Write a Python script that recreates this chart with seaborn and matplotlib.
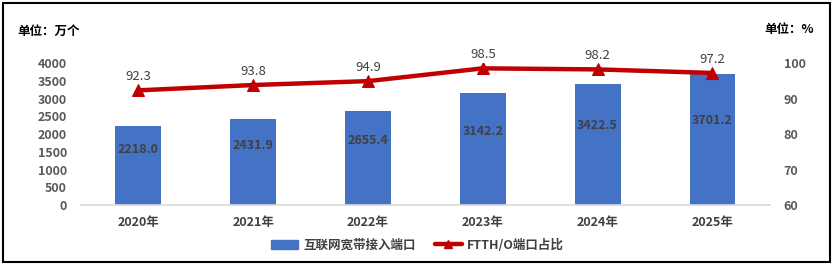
import matplotlib
matplotlib.use("Agg")
import matplotlib.pyplot as plt
import matplotlib.patches as mpatches
from matplotlib.lines import Line2D
import seaborn as sns
import pandas as pd
import numpy as np

years = ["2020年", "2021年", "2022年", "2023年", "2024年", "2025年"]
ports = [2218.0, 2431.9, 2655.4, 3142.2, 3422.5, 3701.2]
ftth = [92.3, 93.8, 94.9, 98.5, 98.2, 97.2]
left_ticks = [0, 500, 1000, 1500, 2000, 2500, 3000, 3500, 4000]
right_ticks = [60, 70, 80, 90, 100]
bar_name = "互联网宽带接入端口"
line_name = "FTTH/O端口占比"
left_unit = "单位：万个"
right_unit = "单位：%"

sns.set_theme(style="white")
plt.rcParams["font.family"] = ["Noto Sans CJK SC", "DejaVu Sans"]

BLUE = "#4472C4"
RED = "#C00000"
TXT = "#404040"

df = pd.DataFrame({"year": years, "ports": ports, "ftth": ftth})

fig = plt.figure(figsize=(8.35, 2.65), dpi=100)
ax = fig.add_axes([0.097, 0.2264, 0.825, 0.5358])
sns.barplot(data=df, x="year", y="ports", ax=ax, color=BLUE, width=0.4,
            saturation=1, edgecolor="none")
ax.set_xlim(-0.5, 5.5)
ax.set_ylim(0, 4000)
ax.set_yticks(left_ticks)
ax.set_yticklabels([str(t) for t in left_ticks], fontsize=9, fontweight="bold", color="#595959")
ax.set_xlabel("")
ax.set_ylabel("")
for s in ["top", "left", "right"]:
    ax.spines[s].set_visible(False)
ax.spines["bottom"].set_color("#D9D9D9")
ax.spines["bottom"].set_linewidth(1.2)
ax.tick_params(axis="both", length=0)
ax.tick_params(axis="x", pad=8)
ax.tick_params(axis="y", pad=10)
for lab in ax.get_xticklabels():
    lab.set_fontsize(9)
    lab.set_fontweight("bold")
    lab.set_color(TXT)

for i, v in enumerate(ports):
    ax.text(i, v * 0.55 + 350, f"{v:.1f}", ha="center", va="center",
            fontsize=9, color=TXT, fontweight="bold")

ax2 = ax.twinx()
sns.lineplot(x=np.arange(len(years)), y=ftth, ax=ax2, color=RED, linewidth=3.2,
             marker="^", markersize=8, markeredgecolor=RED, sort=False)
ax2.set_xlim(-0.5, 5.5)
ax2.set_ylim(60, 100)
ax2.set_yticks(right_ticks)
ax2.set_yticklabels([str(t) for t in right_ticks], fontsize=9, fontweight="bold", color="#595959")
ax2.tick_params(axis="y", length=0, pad=10)
for s in ["top", "left", "right", "bottom"]:
    ax2.spines[s].set_visible(False)
ax2.set_ylabel("")
for i, v in enumerate(ftth):
    ax2.annotate(f"{v:.1f}", (i, v), xytext=(0, 5), textcoords="offset points",
                 ha="center", va="bottom", fontsize=9.5, color=TXT)

fig.text(17 / 835, 1 - 31 / 265, left_unit, fontsize=9, fontweight="bold",
         color="black", ha="left", va="center")
fig.text(764 / 835, 1 - 30 / 265, right_unit, fontsize=9, fontweight="bold",
         color="black", ha="left", va="center")

handles = [mpatches.Patch(color=BLUE, label=bar_name),
           Line2D([0], [0], color=RED, linewidth=3.2, marker="^", markersize=6,
                  label=line_name)]
leg = fig.legend(handles=handles, loc="center", bbox_to_anchor=(0.5, 1 - 245 / 265),
                 ncol=2, frameon=False, fontsize=9, handlelength=2.2,
                 columnspacing=1.5, handletextpad=0.4)
for t in leg.get_texts():
    t.set_color(TXT)
    t.set_fontweight("bold")

border = mpatches.Rectangle((3 / 835, 3 / 265), 827 / 835, 259 / 265,
                            transform=fig.transFigure, fill=False,
                            edgecolor="black", linewidth=1.5)
fig.patches.append(border)

fig.savefig("out.png", dpi=100)
